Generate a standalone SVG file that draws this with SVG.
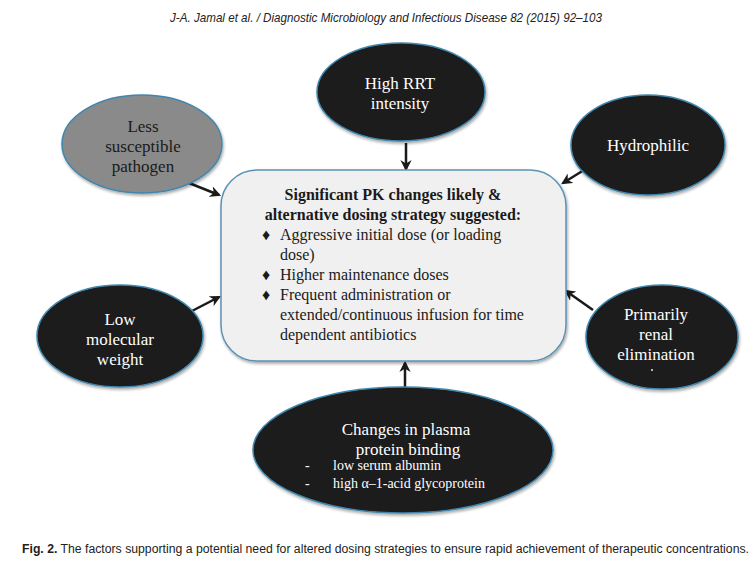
<svg xmlns="http://www.w3.org/2000/svg" width="756" height="570" viewBox="0 0 756 570">
<style>
.dark{fill:#1c1a1b;stroke:#3f86ad;stroke-width:1.5}
.grey{fill:#8a8a8a;stroke:#3f86ad;stroke-width:1.5}
.wt{font-family:"Liberation Serif","Times New Roman",serif;font-size:17px;fill:#ffffff;text-anchor:middle}
.gt{font-family:"Liberation Serif","Times New Roman",serif;font-size:17px;fill:#1a1a1a;text-anchor:middle}
.bt{font-family:"Liberation Serif","Times New Roman",serif;font-size:16px;fill:#1a1a1a}
.st{font-family:"Liberation Serif","Times New Roman",serif;font-size:14px;fill:#ffffff}
.conn{stroke:#1a1a1a;stroke-width:2.5;fill:none;marker-end:url(#ah)}
</style>
<defs>
<marker id="ah" viewBox="0 0 10 10" refX="8" refY="5" markerWidth="4.5" markerHeight="4.5" orient="auto" markerUnits="strokeWidth">
<path d="M0,0 L10,5 L0,10 L3,5 z" fill="#1a1a1a"/>
</marker>
<filter id="sh" x="-10%" y="-10%" width="130%" height="130%">
<feGaussianBlur in="SourceAlpha" stdDeviation="1.5"/>
<feOffset dx="1" dy="2" result="b"/>
<feComponentTransfer><feFuncA type="linear" slope="0.35"/></feComponentTransfer>
<feMerge><feMergeNode/><feMergeNode in="SourceGraphic"/></feMerge>
</filter>
</defs>
<rect width="756" height="570" fill="#ffffff"/>
<text x="386" y="22" text-anchor="middle" font-family="'Liberation Sans',Arial,sans-serif" font-style="italic" font-size="13" fill="#222" textLength="432" lengthAdjust="spacingAndGlyphs">J-A. Jamal et al. / Diagnostic Microbiology and Infectious Disease 82 (2015) 92–103</text>

<g id="connectors">
<line class="conn" x1="406" y1="143" x2="406" y2="169"/>
<line class="conn" x1="584" y1="170" x2="563" y2="183"/>
<line class="conn" x1="189" y1="183" x2="219" y2="195"/>
<line class="conn" x1="190" y1="312" x2="219" y2="297"/>
<line class="conn" x1="593" y1="310" x2="566" y2="291"/>
<line class="conn" x1="405" y1="388" x2="405" y2="363"/>
</g>

<g id="center">
<rect x="221" y="170" width="345" height="191" rx="36" ry="36" fill="#f0f0f0" stroke="#5b93b5" stroke-width="1.5" filter="url(#sh)"/>
<text class="bt" x="393" y="200" text-anchor="middle" font-weight="bold" font-size="16.5">Significant PK changes likely &amp;</text>
<text class="bt" x="393" y="220" text-anchor="middle" font-weight="bold" font-size="16.5">alternative dosing strategy suggested:</text>
<text class="bt" x="262" y="240" font-size="12">♦</text>
<text class="bt" x="280" y="240">Aggressive initial dose (or loading</text>
<text class="bt" x="280" y="260">dose)</text>
<text class="bt" x="262" y="280" font-size="12">♦</text>
<text class="bt" x="280" y="280">Higher maintenance doses</text>
<text class="bt" x="262" y="300" font-size="12">♦</text>
<text class="bt" x="280" y="300">Frequent administration or</text>
<text class="bt" x="280" y="320">extended/continuous infusion for time</text>
<text class="bt" x="280" y="340">dependent antibiotics</text>
</g>

<g id="high-rrt">
<ellipse class="dark" cx="401" cy="92" rx="84" ry="49" filter="url(#sh)"/>
<text class="wt" x="400" y="89">High RRT</text>
<text class="wt" x="400" y="109">intensity</text>
</g>

<g id="hydrophilic">
<ellipse class="dark" cx="648" cy="145" rx="77" ry="50" filter="url(#sh)"/>
<text class="wt" x="648" y="151">Hydrophilic</text>
</g>

<g id="less-susceptible">
<ellipse class="grey" cx="142" cy="144" rx="80" ry="49" filter="url(#sh)"/>
<text class="gt" x="143" y="132">Less</text>
<text class="gt" x="143" y="152">susceptible</text>
<text class="gt" x="143" y="172">pathogen</text>
</g>

<g id="low-mw">
<ellipse class="dark" cx="120" cy="336" rx="83" ry="51" filter="url(#sh)"/>
<text class="wt" x="120" y="325">Low</text>
<text class="wt" x="120" y="345">molecular</text>
<text class="wt" x="120" y="365">weight</text>
</g>

<g id="renal">
<ellipse class="dark" cx="662" cy="337" rx="76" ry="52" filter="url(#sh)"/>
<text class="wt" x="656" y="320">Primarily</text>
<text class="wt" x="656" y="340">renal</text>
<text class="wt" x="656" y="360">elimination</text>
<circle cx="652" cy="370" r="0.9" fill="#ffffff"/>
</g>

<g id="protein-binding">
<ellipse class="dark" cx="403" cy="450" rx="150" ry="63" filter="url(#sh)"/>
<text class="wt" x="406" y="435">Changes in plasma</text>
<text class="wt" x="408" y="455">protein binding</text>
<text class="st" x="305" y="470">-</text>
<text class="st" x="333" y="470">low serum albumin</text>
<text class="st" x="305" y="488">-</text>
<text class="st" x="333" y="488">high α–1-acid glycoprotein</text>
</g>

<text x="22" y="553" font-family="'Liberation Sans',Arial,sans-serif" font-size="12" fill="#222" textLength="727" lengthAdjust="spacingAndGlyphs"><tspan font-weight="bold">Fig. 2.</tspan> The factors supporting a potential need for altered dosing strategies to ensure rapid achievement of therapeutic concentrations.</text>
</svg>
